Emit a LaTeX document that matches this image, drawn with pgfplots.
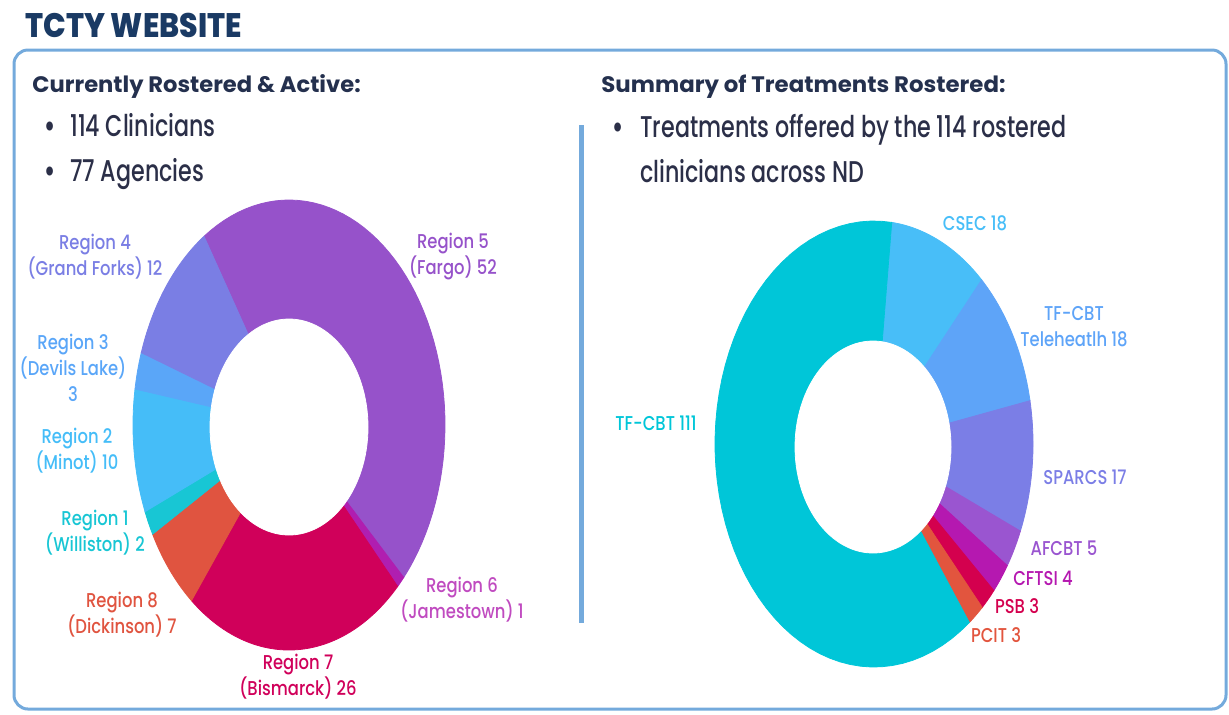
\documentclass[border=0pt]{standalone}
\usepackage{fontspec}
\setmainfont{Poppins}
\newfontfamily\medfont{Poppins Medium}
\newfontfamily\xbfont{Poppins ExtraBold}
\usepackage{pgfplots}
\pgfplotsset{compat=1.18}

% sector colours
\definecolor{cR1}{HTML}{18C6D4}
\definecolor{cR2}{HTML}{45BDF8}
\definecolor{cR3}{HTML}{5AA6F8}
\definecolor{cR4}{HTML}{7A7EE4}
\definecolor{cR5}{HTML}{9652CA}
\definecolor{cR6}{HTML}{B01EB0}
\definecolor{cR7}{HTML}{D0005A}
\definecolor{cR8}{HTML}{E05440}
\definecolor{cTF}{HTML}{00C6D8}
\definecolor{cCSEC}{HTML}{48BEF8}
\definecolor{cTele}{HTML}{5EA4F8}
\definecolor{cSPARCS}{HTML}{7B7EE6}
\definecolor{cAF}{HTML}{9A55D0}
\definecolor{cCF}{HTML}{B518B0}
\definecolor{cPSB}{HTML}{D4004E}
\definecolor{cPCIT}{HTML}{E2553E}
\definecolor{navy}{HTML}{1A3A64}
\definecolor{headc}{HTML}{24304E}
\definecolor{bodyc}{HTML}{2B2F48}
\definecolor{framec}{HTML}{74AADC}

% donut helpers: centre x, centre y, radius x, radius y, start angle, total
\newcommand\donut[6]{\gdef\dcx{#1}\gdef\dcy{#2}\gdef\dRx{#3}\gdef\dRy{#4}\gdef\dstart{#5}\gdef\dtot{#6}\gdef\cum{0}}
% one sector: value, colour (clockwise from start angle)
\newcommand\sector[2]{%
  \pgfmathsetmacro\angA{\dstart-(\cum/\dtot)*360}%
  \pgfmathsetmacro\newcum{\cum+#1}%
  \pgfmathsetmacro\angB{\dstart-(\newcum/\dtot)*360}%
  \xdef\cum{\newcum}%
  \edef\doplot{\noexpand\addplot[fill=#2, draw=#2, line width=0.4pt, domain=\angB:\angA, samples=60, variable=\noexpand\t, forget plot]
    ({\dcx+\dRx*cos(\noexpand\t)}, {\dcy-\dRy*sin(\noexpand\t)}) -- (axis cs:\dcx,\dcy) -- cycle;}%
  \doplot}
\newcommand\hole[4]{%
  \addplot[fill=white, draw=white, line width=0.4pt, domain=0:360, samples=120, forget plot]
    ({#1+#3*cos(x)}, {#2-#4*sin(x)}) -- cycle;}

\begin{document}
\begin{tikzpicture}[
  lab/.style={font=\medfont\fontsize{10}{13}\selectfont, align=center, inner sep=0pt, xscale=0.82},
]
\begin{axis}[
  scale only axis, width=614.5pt, height=357pt,
  xmin=0, xmax=1229, ymin=0, ymax=714, y dir=reverse,
  hide axis, clip=false,
]
% full picture area
\path (axis cs:0,0) rectangle (axis cs:1229,714);
% frame and divider
\draw[framec, line width=1.5pt, rounded corners=7pt] (axis cs:14,50) rectangle (axis cs:1226,709);
\draw[framec, line width=2.5pt] (axis cs:581.5,125) -- (axis cs:581.5,623);

% titles
\node[anchor=base west, inner sep=0pt, xscale=0.88, text=navy, font=\xbfont\fontsize{17}{20}\selectfont] at (axis cs:25,37) {TCTY WEBSITE};
\node[anchor=base west, inner sep=0pt, xscale=1.01, text=headc, font=\fontsize{11.2}{14}\selectfont\bfseries] at (axis cs:32,92) {Currently Rostered \& Active:};
\node[anchor=base west, inner sep=0pt, xscale=1.02, text=headc, font=\fontsize{11.2}{14}\selectfont\bfseries] at (axis cs:601,92) {Summary of Treatments Rostered:};
\begin{scope}[every node/.style={inner sep=0pt, xscale=0.74, text=bodyc, font=\medfont\fontsize{15}{18}\selectfont}]
\node[anchor=base, font=\fontsize{15}{18}\selectfont\bfseries] at (axis cs:50,136) {•};
\node[anchor=base west] at (axis cs:70,136) {114 Clinicians};
\node[anchor=base, font=\fontsize{15}{18}\selectfont\bfseries] at (axis cs:50,181) {•};
\node[anchor=base west] at (axis cs:70,181) {77 Agencies};
\node[anchor=base, font=\fontsize{15}{18}\selectfont\bfseries] at (axis cs:618,137) {•};
\node[anchor=base west] at (axis cs:640,137) {Treatments offered by the 114 rostered};
\node[anchor=base west] at (axis cs:640,182) {clinicians across ND};
\end{scope}

% left donut: regions (total 113)
\donut{289}{425}{156}{225}{123}{113}
\sector{52}{cR5}
\sector{1}{cR6}
\sector{26}{cR7}
\sector{7}{cR8}
\sector{2}{cR1}
\sector{10}{cR2}
\sector{3}{cR3}
\sector{12}{cR4}
\hole{289}{427}{79}{108}

% right donut: treatments (total 179)
\donut{874}{444}{159}{223}{83.6}{179}
\sector{18}{cCSEC}
\sector{18}{cTele}
\sector{17}{cSPARCS}
\sector{5}{cAF}
\sector{4}{cCF}
\sector{3}{cPSB}
\sector{3}{cPCIT}
\sector{111}{cTF}
\hole{873}{447}{78}{106}

% left labels
\node[lab, text=cR4] at (axis cs:95,257) {Region 4\\(Grand Forks) 12};
\node[lab, text=cR3] at (axis cs:73,368) {Region 3\\(Devils Lake)\\3};
\node[lab, text=cR2] at (axis cs:77,451) {Region 2\\(Minot) 10};
\node[lab, text=cR1] at (axis cs:95,533) {Region 1\\(Williston) 2};
\node[lab, text=cR8] at (axis cs:122,615) {Region 8\\(Dickinson) 7};
\node[lab, text=cR7] at (axis cs:298,677) {Region 7\\(Bismarck) 26};
\node[lab, text=cR5] at (axis cs:453,257) {Region 5\\(Fargo) 52};
\node[lab, text=cR6!80!white] at (axis cs:462,600) {Region 6\\(Jamestown) 1};

% right labels
\node[lab, text=cCSEC] at (axis cs:975,223) {CSEC 18};
\node[lab, text=cTele] at (axis cs:1074,327) {TF-CBT\\Teleheatlh 18};
\node[lab, text=cSPARCS] at (axis cs:1085,477) {SPARCS 17};
\node[lab, text=cAF] at (axis cs:1064,548) {AFCBT 5};
\node[lab, text=cCF] at (axis cs:1043,578) {CFTSI 4};
\node[lab, text=cPSB] at (axis cs:1017,606) {PSB 3};
\node[lab, text=cPCIT] at (axis cs:996,635) {PCIT 3};
\node[lab, text=cTF] at (axis cs:656,423) {TF-CBT 111};
\end{axis}
\end{tikzpicture}
\end{document}
